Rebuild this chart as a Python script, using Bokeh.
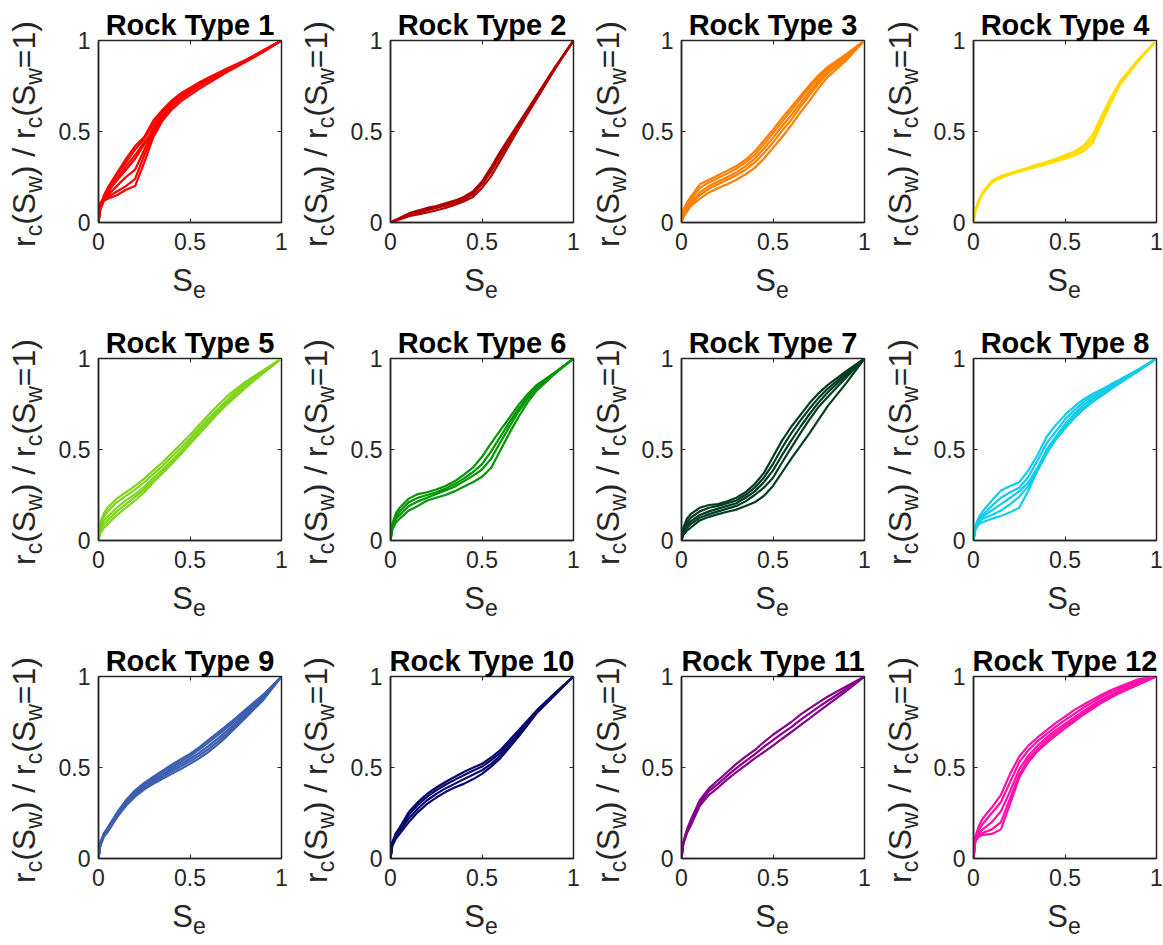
from bokeh.plotting import figure
from bokeh.models import FixedTicker, LinearAxis, Range1d, CustomJSTickFormatter, Div
from bokeh.layouts import row, column
from bokeh.embed import file_html
from bokeh.resources import INLINE

# ---------------- data ----------------
SE = [0, 0.01, 0.03, 0.05, 0.1, 0.15, 0.2, 0.25, 0.3, 0.35, 0.4, 0.45, 0.5,
      0.55, 0.6, 0.65, 0.7, 0.75, 0.8, 0.9, 1.0]

TICKS = [0, 0.5, 1]
TICK_LABELS = ["0", "0.5", "1"]

TITLES = ["Rock Type %d" % i for i in range(1, 13)]

COLORS = ["#FF0000", "#B00000", "#FF8000", "#FFDD00",
          "#80D41E", "#009600", "#043D24", "#12CCEA",
          "#3C5FAF", "#0A0A6E", "#86008A", "#FF10AA"]

RT1 = [
    [0, 0.09, 0.15, 0.19, 0.27, 0.35, 0.42, 0.47, 0.56, 0.62, 0.67, 0.71, 0.74, 0.77, 0.795, 0.82, 0.845, 0.868, 0.89, 0.945, 1],
    [0, 0.08, 0.14, 0.18, 0.26, 0.33, 0.40, 0.46, 0.54, 0.61, 0.665, 0.705, 0.737, 0.767, 0.793, 0.818, 0.843, 0.866, 0.89, 0.945, 1],
    [0, 0.10, 0.14, 0.17, 0.23, 0.29, 0.35, 0.43, 0.52, 0.60, 0.655, 0.70, 0.732, 0.762, 0.79, 0.815, 0.84, 0.864, 0.887, 0.943, 1],
    [0, 0.10, 0.13, 0.15, 0.20, 0.25, 0.29, 0.40, 0.51, 0.59, 0.645, 0.69, 0.725, 0.757, 0.785, 0.811, 0.837, 0.861, 0.885, 0.942, 1],
    [0, 0.10, 0.12, 0.13, 0.15, 0.18, 0.20, 0.33, 0.47, 0.56, 0.62, 0.665, 0.70, 0.735, 0.765, 0.795, 0.825, 0.853, 0.88, 0.936, 1],
    [0, 0.11, 0.13, 0.14, 0.17, 0.20, 0.24, 0.37, 0.49, 0.575, 0.635, 0.68, 0.715, 0.75, 0.778, 0.805, 0.832, 0.858, 0.883, 0.94, 1],
    [0, 0.07, 0.12, 0.16, 0.24, 0.31, 0.37, 0.44, 0.50, 0.58, 0.64, 0.69, 0.728, 0.76, 0.788, 0.814, 0.84, 0.863, 0.886, 0.942, 1],
]
RT2 = [
    [0, 0.005, 0.015, 0.025, 0.05, 0.065, 0.08, 0.09, 0.105, 0.12, 0.14, 0.17, 0.225, 0.305, 0.39, 0.468, 0.545, 0.622, 0.70, 0.855, 1],
    [0, 0.005, 0.014, 0.023, 0.047, 0.06, 0.074, 0.086, 0.1, 0.115, 0.135, 0.165, 0.215, 0.29, 0.375, 0.455, 0.535, 0.615, 0.695, 0.852, 1],
    [0, 0.004, 0.012, 0.02, 0.042, 0.055, 0.067, 0.08, 0.093, 0.108, 0.127, 0.155, 0.21, 0.28, 0.365, 0.448, 0.53, 0.61, 0.69, 0.85, 1],
    [0, 0.003, 0.01, 0.017, 0.035, 0.045, 0.055, 0.067, 0.08, 0.097, 0.115, 0.14, 0.19, 0.255, 0.34, 0.428, 0.515, 0.598, 0.68, 0.845, 1],
]
RT3 = [
    [0, 0.07, 0.11, 0.14, 0.21, 0.235, 0.26, 0.285, 0.31, 0.345, 0.39, 0.45, 0.51, 0.575, 0.635, 0.695, 0.755, 0.81, 0.855, 0.925, 1],
    [0, 0.06, 0.10, 0.125, 0.19, 0.22, 0.245, 0.27, 0.295, 0.33, 0.37, 0.43, 0.49, 0.555, 0.615, 0.68, 0.74, 0.795, 0.845, 0.92, 1],
    [0, 0.05, 0.085, 0.11, 0.165, 0.20, 0.225, 0.25, 0.275, 0.31, 0.35, 0.405, 0.465, 0.53, 0.59, 0.655, 0.72, 0.78, 0.83, 0.91, 1],
    [0, 0.04, 0.075, 0.10, 0.15, 0.185, 0.21, 0.235, 0.26, 0.29, 0.33, 0.38, 0.44, 0.505, 0.565, 0.635, 0.70, 0.765, 0.82, 0.90, 1],
    [0, 0.03, 0.06, 0.09, 0.13, 0.165, 0.19, 0.21, 0.235, 0.265, 0.30, 0.35, 0.41, 0.47, 0.535, 0.605, 0.67, 0.74, 0.80, 0.89, 1],
]
RT4 = [
    [0, 0.07, 0.125, 0.165, 0.23, 0.255, 0.272, 0.287, 0.302, 0.318, 0.333, 0.35, 0.37, 0.39, 0.42, 0.48, 0.585, 0.685, 0.775, 0.895, 1],
    [0, 0.065, 0.12, 0.16, 0.225, 0.25, 0.268, 0.283, 0.297, 0.312, 0.327, 0.343, 0.36, 0.38, 0.405, 0.458, 0.565, 0.67, 0.765, 0.89, 1],
    [0, 0.06, 0.115, 0.155, 0.22, 0.245, 0.264, 0.279, 0.293, 0.307, 0.321, 0.335, 0.35, 0.367, 0.39, 0.435, 0.545, 0.655, 0.755, 0.885, 1],
]
RT5 = [
    [0, 0.10, 0.15, 0.18, 0.23, 0.265, 0.30, 0.34, 0.385, 0.43, 0.48, 0.53, 0.58, 0.635, 0.69, 0.74, 0.79, 0.83, 0.87, 0.935, 1],
    [0, 0.09, 0.13, 0.16, 0.21, 0.245, 0.28, 0.32, 0.365, 0.41, 0.46, 0.51, 0.56, 0.615, 0.67, 0.72, 0.77, 0.815, 0.86, 0.93, 1],
    [0, 0.07, 0.11, 0.13, 0.18, 0.22, 0.255, 0.295, 0.345, 0.39, 0.44, 0.49, 0.545, 0.60, 0.655, 0.71, 0.76, 0.805, 0.85, 0.925, 1],
    [0, 0.06, 0.09, 0.11, 0.16, 0.20, 0.24, 0.28, 0.33, 0.375, 0.425, 0.475, 0.535, 0.59, 0.645, 0.70, 0.752, 0.80, 0.845, 0.922, 1],
    [0, 0.04, 0.07, 0.09, 0.14, 0.18, 0.22, 0.265, 0.32, 0.37, 0.42, 0.475, 0.53, 0.585, 0.64, 0.695, 0.745, 0.79, 0.835, 0.92, 1],
]
RT6 = [
    [0, 0.09, 0.15, 0.18, 0.23, 0.255, 0.265, 0.28, 0.30, 0.325, 0.36, 0.40, 0.46, 0.535, 0.605, 0.675, 0.745, 0.805, 0.855, 0.925, 1],
    [0, 0.08, 0.13, 0.16, 0.21, 0.235, 0.25, 0.265, 0.285, 0.31, 0.34, 0.375, 0.42, 0.49, 0.57, 0.65, 0.725, 0.79, 0.845, 0.922, 1],
    [0, 0.07, 0.12, 0.14, 0.19, 0.215, 0.235, 0.255, 0.275, 0.295, 0.325, 0.355, 0.39, 0.45, 0.54, 0.625, 0.71, 0.78, 0.84, 0.92, 1],
    [0, 0.06, 0.10, 0.12, 0.165, 0.19, 0.22, 0.235, 0.25, 0.27, 0.295, 0.32, 0.35, 0.40, 0.495, 0.59, 0.68, 0.76, 0.825, 0.918, 1],
]
RT7 = [
    [0, 0.07, 0.12, 0.145, 0.18, 0.195, 0.20, 0.215, 0.235, 0.265, 0.31, 0.37, 0.46, 0.55, 0.625, 0.69, 0.755, 0.81, 0.855, 0.93, 1],
    [0, 0.06, 0.10, 0.125, 0.16, 0.18, 0.19, 0.205, 0.22, 0.25, 0.29, 0.345, 0.42, 0.51, 0.59, 0.66, 0.725, 0.785, 0.835, 0.92, 1],
    [0, 0.05, 0.085, 0.105, 0.14, 0.16, 0.175, 0.19, 0.205, 0.235, 0.27, 0.32, 0.385, 0.47, 0.55, 0.625, 0.695, 0.76, 0.815, 0.91, 1],
    [0, 0.04, 0.07, 0.09, 0.125, 0.145, 0.16, 0.175, 0.19, 0.215, 0.25, 0.29, 0.345, 0.43, 0.51, 0.59, 0.665, 0.735, 0.79, 0.895, 1],
    [0, 0.03, 0.055, 0.07, 0.11, 0.13, 0.145, 0.158, 0.17, 0.19, 0.21, 0.245, 0.30, 0.375, 0.45, 0.52, 0.59, 0.665, 0.74, 0.865, 1],
]
RT8 = [
    [0, 0.08, 0.13, 0.16, 0.22, 0.275, 0.30, 0.32, 0.385, 0.47, 0.57, 0.635, 0.69, 0.735, 0.775, 0.805, 0.83, 0.858, 0.885, 0.94, 1],
    [0, 0.07, 0.12, 0.14, 0.19, 0.235, 0.265, 0.29, 0.35, 0.44, 0.535, 0.60, 0.665, 0.715, 0.76, 0.792, 0.82, 0.85, 0.878, 0.937, 1],
    [0, 0.07, 0.11, 0.13, 0.165, 0.20, 0.235, 0.27, 0.32, 0.40, 0.50, 0.57, 0.64, 0.695, 0.745, 0.78, 0.812, 0.843, 0.872, 0.935, 1],
    [0, 0.065, 0.10, 0.12, 0.14, 0.165, 0.20, 0.24, 0.30, 0.385, 0.48, 0.555, 0.625, 0.68, 0.73, 0.768, 0.803, 0.836, 0.867, 0.933, 1],
    [0, 0.06, 0.09, 0.10, 0.12, 0.135, 0.155, 0.18, 0.275, 0.385, 0.48, 0.555, 0.615, 0.672, 0.72, 0.76, 0.795, 0.83, 0.865, 0.93, 1],
]
RT9 = [
    [0, 0.09, 0.14, 0.17, 0.25, 0.32, 0.375, 0.415, 0.45, 0.483, 0.515, 0.545, 0.575, 0.61, 0.65, 0.69, 0.73, 0.772, 0.815, 0.90, 1],
    [0, 0.085, 0.135, 0.165, 0.245, 0.313, 0.366, 0.405, 0.44, 0.472, 0.503, 0.533, 0.563, 0.598, 0.637, 0.677, 0.718, 0.761, 0.806, 0.894, 1],
    [0, 0.08, 0.13, 0.16, 0.24, 0.306, 0.358, 0.398, 0.43, 0.461, 0.49, 0.519, 0.548, 0.58, 0.617, 0.657, 0.70, 0.746, 0.794, 0.887, 1],
    [0, 0.075, 0.125, 0.152, 0.233, 0.298, 0.35, 0.39, 0.42, 0.45, 0.478, 0.506, 0.534, 0.565, 0.601, 0.641, 0.685, 0.733, 0.782, 0.879, 1],
    [0, 0.07, 0.12, 0.145, 0.225, 0.29, 0.34, 0.38, 0.41, 0.438, 0.465, 0.492, 0.52, 0.55, 0.585, 0.625, 0.67, 0.72, 0.77, 0.87, 1],
]
RT10 = [
    [0, 0.09, 0.14, 0.17, 0.255, 0.31, 0.355, 0.39, 0.42, 0.448, 0.475, 0.498, 0.52, 0.555, 0.595, 0.65, 0.705, 0.76, 0.815, 0.91, 1],
    [0, 0.085, 0.13, 0.16, 0.24, 0.295, 0.34, 0.375, 0.405, 0.432, 0.457, 0.482, 0.505, 0.54, 0.58, 0.635, 0.69, 0.75, 0.81, 0.907, 1],
    [0, 0.08, 0.12, 0.15, 0.22, 0.275, 0.32, 0.355, 0.385, 0.41, 0.435, 0.46, 0.485, 0.52, 0.565, 0.62, 0.68, 0.74, 0.805, 0.904, 1],
    [0, 0.07, 0.11, 0.135, 0.20, 0.255, 0.30, 0.335, 0.365, 0.39, 0.41, 0.435, 0.465, 0.505, 0.55, 0.61, 0.67, 0.735, 0.80, 0.90, 1],
]
RT11 = [
    [0, 0.09, 0.16, 0.21, 0.32, 0.385, 0.43, 0.475, 0.52, 0.56, 0.595, 0.64, 0.68, 0.715, 0.75, 0.79, 0.825, 0.858, 0.89, 0.945, 1],
    [0, 0.085, 0.15, 0.195, 0.305, 0.37, 0.41, 0.455, 0.497, 0.535, 0.572, 0.613, 0.65, 0.687, 0.722, 0.762, 0.797, 0.833, 0.867, 0.932, 1],
    [0, 0.08, 0.14, 0.18, 0.29, 0.35, 0.39, 0.435, 0.475, 0.512, 0.55, 0.585, 0.62, 0.658, 0.695, 0.733, 0.77, 0.808, 0.845, 0.92, 1],
]
RT12 = [
    [0, 0.12, 0.18, 0.22, 0.28, 0.35, 0.465, 0.56, 0.62, 0.665, 0.705, 0.745, 0.78, 0.815, 0.845, 0.872, 0.90, 0.925, 0.945, 0.985, 1],
    [0, 0.11, 0.16, 0.19, 0.25, 0.31, 0.42, 0.53, 0.595, 0.645, 0.685, 0.725, 0.76, 0.795, 0.828, 0.858, 0.887, 0.913, 0.935, 0.978, 1],
    [0, 0.10, 0.14, 0.16, 0.20, 0.26, 0.37, 0.49, 0.565, 0.62, 0.665, 0.705, 0.74, 0.775, 0.81, 0.842, 0.872, 0.90, 0.925, 0.97, 1],
    [0, 0.10, 0.13, 0.14, 0.16, 0.20, 0.33, 0.46, 0.545, 0.60, 0.65, 0.69, 0.727, 0.762, 0.798, 0.832, 0.863, 0.893, 0.92, 0.962, 1],
    [0, 0.095, 0.12, 0.13, 0.135, 0.16, 0.30, 0.445, 0.53, 0.59, 0.635, 0.677, 0.715, 0.752, 0.79, 0.823, 0.855, 0.883, 0.91, 0.955, 1],
]

ROCK_CURVES = [RT1, RT2, RT3, RT4, RT5, RT6, RT7, RT8, RT9, RT10, RT11, RT12]

# ---------------- layout / style ----------------
FONT = "Liberation Sans"
TXT = "#262626"
COL_W = [292, 292, 292, 287]
ROW_H = [318, 318, 309]
YDIV_W = 50
FRAME_W, FRAME_H = 183, 182
BORDER_T, BORDER_B = 40, 40
FIG_H = BORDER_T + FRAME_H + BORDER_B
BORDER_L = [48, 48, 47, 47]

TITLE_SIZE = 29
TICK_SIZE = 23
LAB_M = 32
LAB_S = 23
SUB_SHIFT = 7

YLABEL_HTML = "r<sub>c</sub>(S<sub>w</sub>) / r<sub>c</sub>(S<sub>w</sub>=1)"
XLABEL_HTML = "S<sub>e</sub>"

SUB_CSS = ("<style>sub{font-size:%dpx;vertical-align:-%dpx;line-height:0;}</style>"
           % (LAB_S, SUB_SHIFT))

empty_fmt = CustomJSTickFormatter(code="return ''")


def y_label_div():
    cx = 24
    cy = BORDER_T + FRAME_H / 2 + 3
    html = (SUB_CSS +
            '<div style="position:relative;width:%dpx;height:%dpx;">'
            '<div style="position:absolute;left:%dpx;top:%dpx;'
            'transform:translate(-50%%,-50%%) rotate(-90deg);white-space:nowrap;'
            'font-family:\'%s\';font-size:%dpx;line-height:1;color:%s;">%s</div></div>'
            % (YDIV_W, FIG_H, cx, cy, FONT, LAB_M, TXT, YLABEL_HTML))
    return Div(text=html, width=YDIV_W, height=FIG_H, margin=0)


def x_label_div(width, height, frame_center):
    html = (SUB_CSS +
            '<div style="position:relative;width:%dpx;height:%dpx;">'
            '<div style="position:absolute;left:%dpx;width:100px;top:3px;text-align:center;'
            'white-space:nowrap;font-family:\'%s\';font-size:%dpx;line-height:1;color:%s;">%s</div></div>'
            % (width, height, frame_center - 50, FONT, LAB_M - 1, TXT, XLABEL_HTML))
    return Div(text=html, width=width, height=height, margin=0)


rows = []
for r in range(3):
    panels = []
    for c in range(4):
        i = r * 4 + c
        fw = COL_W[c] - YDIV_W
        bl = BORDER_L[c]
        br = fw - bl - FRAME_W
        p = figure(width=fw, height=FIG_H, output_backend="svg", toolbar_location=None,
                   x_range=Range1d(0, 1), y_range=Range1d(0, 1),
                   min_border_left=bl, min_border_right=br,
                   min_border_top=BORDER_T, min_border_bottom=BORDER_B,
                   background_fill_color="white", border_fill_color="white",
                   title=TITLES[i])
        p.title.align = "center"
        p.title.text_font = FONT
        p.title.text_font_style = "bold"
        p.title.text_font_size = "%dpx" % TITLE_SIZE
        p.title.text_color = "black"
        p.title.standoff = 0
        p.xgrid.visible = False
        p.ygrid.visible = False
        p.outline_line_color = TXT
        p.outline_line_width = 1.5
        p.outline_line_alpha = 1.0

        for ax in (p.xaxis[0], p.yaxis[0]):
            ax.ticker = FixedTicker(ticks=TICKS)
            ax.major_label_overrides = {t: l for t, l in zip(TICKS, TICK_LABELS)}
            ax.major_label_text_font = FONT
            ax.major_label_text_font_size = "%dpx" % TICK_SIZE
            ax.major_label_text_color = TXT
            ax.axis_line_color = TXT
            ax.axis_line_width = 1.5
            ax.major_tick_in = 4
            ax.major_tick_out = 0
            ax.major_tick_line_color = TXT
            ax.minor_tick_line_color = None
        p.xaxis[0].major_label_standoff = 10
        p.yaxis[0].major_label_standoff = 8

        for side in ("right", "above"):
            ax2 = LinearAxis(ticker=FixedTicker(ticks=TICKS), formatter=empty_fmt,
                             major_tick_in=4, major_tick_out=0,
                             major_tick_line_color=TXT, minor_tick_line_color=None,
                             axis_line_color=None, major_label_standoff=0,
                             major_label_text_font_size="1px")
            p.add_layout(ax2, side)

        for curve in ROCK_CURVES[i]:
            p.line(SE, curve, line_color=COLORS[i], line_width=2.2)

        top = row(y_label_div(), p)
        xdiv = x_label_div(COL_W[c], ROW_H[r] - FIG_H, YDIV_W + bl + FRAME_W / 2)
        panels.append(column(top, xdiv))
    rows.append(row(*panels))

layout = column(*rows)

open("out.html", "w").write(file_html(layout, INLINE))
